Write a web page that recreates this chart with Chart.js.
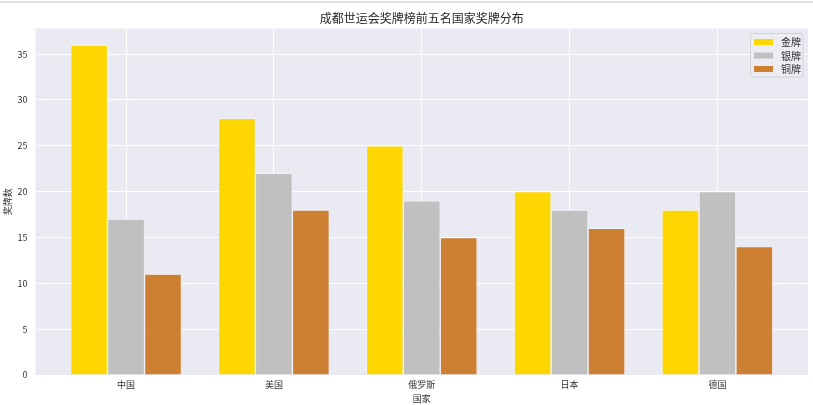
<!DOCTYPE html>
<html>
<head>
<meta charset="utf-8">
<script src="https://cdn.jsdelivr.net/npm/chart.js@4.4.1/dist/chart.umd.min.js"></script>
<style>
html,body{margin:0;padding:0;background:#fff;}
#wrap{position:relative;width:813px;height:405px;}
#topline{position:absolute;left:0;top:1px;width:813px;height:2px;background:#e2e2e2;}
canvas{position:absolute;left:0;top:0;}
</style>
</head>
<body>
<div id="wrap"><canvas id="c" width="813" height="405"></canvas><div id="topline"></div></div>
<script>
const categories = ['中国', '美国', '俄罗斯', '日本', '德国'];
const goldValues = [36, 28, 25, 20, 18];
const silverValues = [17, 22, 19, 18, 20];
const bronzeValues = [11, 18, 15, 16, 14];
const seriesLabels = ['金牌', '银牌', '铜牌'];
const yTickValues = [0, 5, 10, 15, 20, 25, 30, 35];
const titleText = '成都世运会奖牌榜前五名国家奖牌分布';
const xTitle = '国家';
const yTitle = '奖牌数';

const FONT = "'Noto Sans CJK SC', 'DejaVu Sans', sans-serif";
const colors = ['#FFD700', '#C0C0C0', '#CD7F32'];
const toPts = arr => arr.map((v, i) => ({x: i, y: v}));

const legendPlugin = {
  id: 'boxLegend',
  afterDraw(chart) {
    const ctx = chart.ctx;
    const ca = chart.chartArea;
    // title centred over the plot area
    ctx.save();
    ctx.font = '12px ' + FONT;
    ctx.fillStyle = '#262626';
    ctx.textAlign = 'center';
    ctx.textBaseline = 'middle';
    ctx.fillText(titleText, (ca.left + ca.right) / 2, 18);
    ctx.restore();

    const bx = ca.right - 58, by = ca.top + 4.5, bw = 52.5, bh = 43.5;
    ctx.save();
    ctx.beginPath();
    if (ctx.roundRect) ctx.roundRect(bx + 0.5, by + 0.5, bw, bh, 3); else ctx.rect(bx + 0.5, by + 0.5, bw, bh);
    ctx.fillStyle = 'rgba(236,236,243,0.9)';
    ctx.fill();
    ctx.strokeStyle = '#d2d2d6';
    ctx.lineWidth = 1;
    ctx.stroke();
    ctx.font = '10px ' + FONT;
    ctx.textBaseline = 'middle';
    ctx.textAlign = 'left';
    chart.data.datasets.forEach((ds, i) => {
      const cy = by + 9 + i * 13.5;
      ctx.fillStyle = ds.backgroundColor;
      ctx.fillRect(bx + 4, cy - 3, 19, 6);
      ctx.fillStyle = '#333';
      ctx.fillText(ds.label, bx + 31, cy + 0.5);
    });
    ctx.restore();
  }
};

new Chart(document.getElementById('c'), {
  type: 'bar',
  data: {
    datasets: [
      {label: seriesLabels[0], data: toPts(goldValues), backgroundColor: colors[0]},
      {label: seriesLabels[1], data: toPts(silverValues), backgroundColor: colors[1]},
      {label: seriesLabels[2], data: toPts(bronzeValues), backgroundColor: colors[2]}
    ]
  },
  options: {
    responsive: false,
    animation: false,
    devicePixelRatio: 1,
    layout: {padding: {left: 0, right: 5, top: 28.5, bottom: 0}},
    datasets: {bar: {categoryPercentage: 0.75, barPercentage: 1.0, borderColor: 'rgba(255,255,255,0.75)', borderWidth: 0.7}},
    plugins: {
      legend: {display: false},
      tooltip: {enabled: false},
      title: {display: false}
    },
    scales: {
      x: {
        type: 'linear', min: -0.6125, max: 4.6125, offset: false,
        grid: {color: '#ffffff', lineWidth: 1, drawTicks: false, offset: false},
        border: {display: false},
        afterBuildTicks: s => { s.ticks = categories.map((c, i) => ({value: i})); },
        afterFit: s => { s.height = 30; },
        ticks: {
          callback: (v) => categories[v] ?? '',
          color: '#333', padding: 4,
          font: {family: FONT, size: 9}, maxRotation: 0, autoSkip: false
        },
        title: {display: true, text: xTitle, color: '#333', font: {family: FONT, size: 9, lineHeight: 1.2}, padding: {top: 0, bottom: 1.5}}
      },
      y: {
        min: 0, max: 37.8,
        grid: {color: '#ffffff', lineWidth: 1, drawTicks: false},
        border: {display: false},
        afterBuildTicks: s => { s.ticks = yTickValues.map(v => ({value: v})); },
        afterFit: s => { s.width = 35.5; },
        ticks: {color: '#333', padding: 8, font: {family: FONT, size: 9}},
        title: {display: true, text: yTitle, color: '#333', font: {family: FONT, size: 9, lineHeight: 1.2}, padding: {top: 2, bottom: 0}}
      }
    }
  },
  plugins: [legendPlugin, {
    id: 'bg',
    beforeDraw(chart) {
      const {ctx, chartArea: a} = chart;
      ctx.save();
      ctx.fillStyle = '#EAEAF2';
      ctx.fillRect(a.left, a.top, a.right - a.left, a.bottom - a.top);
      ctx.restore();
    }
  }]
});
</script>
</body>
</html>
